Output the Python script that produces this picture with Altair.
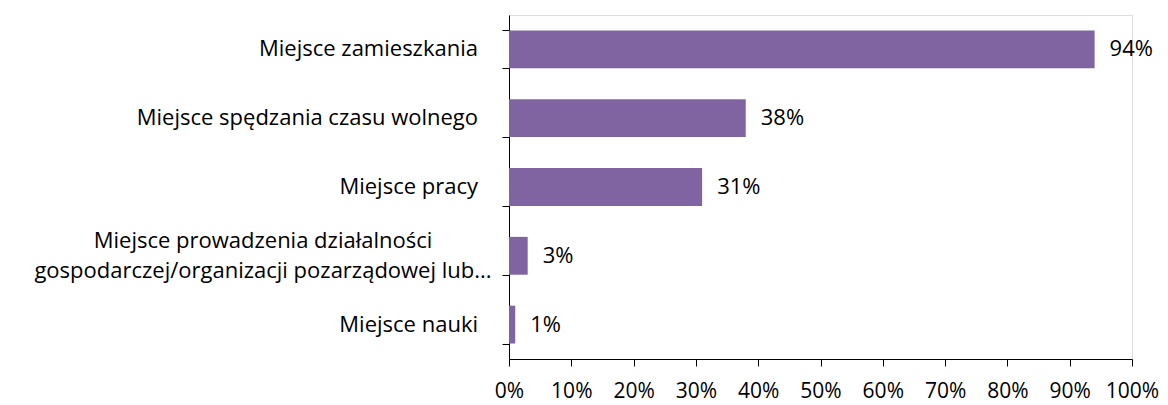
import altair as alt
import pandas as pd

categories = [
    "Miejsce zamieszkania",
    "Miejsce spędzania czasu wolnego",
    "Miejsce pracy",
    "Miejsce prowadzenia działalności|gospodarczej/organizacji pozarządowej lub...",
    "Miejsce nauki",
]
values = [94, 38, 31, 3, 1]
labels = ["94%", "38%", "31%", "3%", "1%"]
multiline = [False, False, False, True, False]

df = pd.DataFrame({"cat": categories, "val": values, "lab": labels, "multi": multiline})

FONT = "Open Sans"
FS = 22
COLOR = "#8064A2"

y_scale = alt.Scale(paddingInner=0.45, paddingOuter=0.225)

y_enc = alt.Y(
    "cat:N",
    sort=categories,
    title=None,
    scale=y_scale,
    axis=alt.Axis(
        labels=False,
        domainColor="#000000",
        tickColor="#000000",
        tickSize=7,
        tickBand="extent",
        grid=False,
    ),
)

x_enc = alt.X(
    "val:Q",
    title=None,
    scale=alt.Scale(domain=[0, 100]),
    axis=alt.Axis(
        values=list(range(0, 101, 10)),
        labelExpr="datum.value + '%'",
        labelFontSize=21,
        labelFont=FONT,
        labelColor="#000000",
        labelPadding=14,
        labelOverlap=False,
        labelFlush=False,
        domainColor="#000000",
        tickColor="#000000",
        tickSize=7,
        grid=False,
    ),
)

base = alt.Chart(df)

bars = base.mark_bar(color=COLOR).encode(x=x_enc, y=y_enc)

text = base.mark_text(
    align="left", baseline="middle", dx=15, fontSize=FS, font=FONT, color="#000000"
).encode(x="val:Q", y=alt.Y("cat:N", sort=categories), text="lab:N")

ylab_single = base.transform_filter("!datum.multi").mark_text(
    align="right", baseline="middle", fontSize=FS, font=FONT, color="#000000"
).encode(
    x=alt.value(-31),
    y=alt.Y("cat:N", sort=categories),
    text="cat:N",
)

ylab_multi = base.transform_filter("datum.multi").mark_text(
    align="center", baseline="middle", fontSize=FS, font=FONT, color="#000000",
    lineBreak="|", lineHeight=30, dy=-15,
).encode(
    x=alt.value(-246),
    y=alt.Y("cat:N", sort=categories),
    text="cat:N",
)

chart = (
    alt.layer(bars, text, ylab_single, ylab_multi)
    .properties(
        width=623,
        height=344,
        autosize=alt.AutoSizeParams(type="none"),
        padding={"left": 501, "top": 7, "right": 28, "bottom": 46},
    )
    .configure_view(stroke=None)
    .configure(background="#ffffff")
)

chart.save("out.html", embed_options={"renderer": "svg", "actions": False})
